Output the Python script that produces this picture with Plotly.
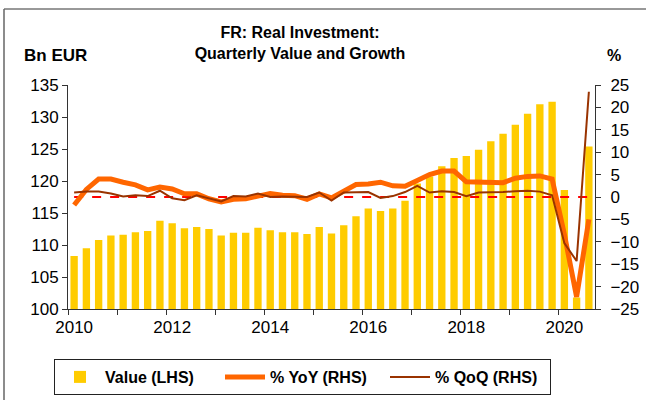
import plotly.graph_objects as go

# ---- data (2010Q1 .. 2020Q3) ----
quarters = [f"{y}Q{q}" for y in range(2010, 2021) for q in range(1, 5)][:43]

value_bn_eur = [108.3, 109.5, 110.8, 111.5, 111.6, 112.0, 112.2, 113.8,
                113.4, 112.6, 112.8, 112.5, 111.5, 111.9, 111.9, 112.7,
                112.3, 112.0, 112.0, 111.7, 112.8, 111.8, 113.1, 114.5,
                115.7, 115.3, 115.7, 116.9, 119.6, 120.7, 122.3, 123.6,
                123.9, 124.9, 126.2, 127.4, 128.8, 130.5, 132.0, 132.4,
                118.6, 101.8, 125.4]

yoy_pct = [-1.8, 1.7, 4.0, 4.0, 3.3, 2.7, 1.6, 2.2,
           1.8, 0.7, 0.7, -0.4, -1.1, -0.5, -0.4, 0.2,
           0.8, 0.4, 0.3, -0.5, 0.7, -0.2, 1.4, 2.8,
           2.9, 3.3, 2.5, 2.4, 3.7, 5.0, 5.8, 5.8,
           3.4, 3.3, 3.2, 3.2, 4.2, 4.6, 4.7, 4.0,
           -8.3, -22.3, -5.0]

qoq_pct = [1.0, 1.2, 1.2, 0.8, 0.1, 0.4, 0.2, 1.4,
           -0.3, -0.7, 0.4, -0.3, -1.0, 0.2, 0.1, 0.8,
           0.0, 0.1, 0.1, 0.0, 1.0, -0.8, 1.0, 1.1,
           1.1, -0.2, 0.2, 1.1, 2.5, 1.0, 1.3, 1.1,
           0.2, 1.0, 1.0, 1.1, 1.3, 1.4, 1.2, 0.4,
           -10.3, -14.3, 23.5]

year_labels = ["2010", "2012", "2014", "2016", "2018", "2020"]

x = list(range(len(quarters)))
label_pos = [quarters.index(f"{y}Q1") for y in year_labels]
year_bounds = [quarters.index(q) - 0.5 for q in quarters if q.endswith("Q1")]

FONT = "Liberation Sans, Arial, sans-serif"
W, H = 646, 400
L, R, T, B = 68, 51, 85, 91
PW, PH = W - L - R, H - T - B


def px_x(p):
    return (p - L) / PW


def px_y(p):
    return (H - B - p) / PH


fig = go.Figure()
fig.add_trace(go.Bar(x=x, y=value_bn_eur, name="<b>Value (LHS)</b>",
                     marker=dict(color="#FFCC00", line=dict(width=0)),
                     width=0.6, yaxis="y"))
fig.add_trace(go.Scatter(x=[x[0], x[-1]], y=[0, 0], mode="lines",
                         line=dict(color="#FF0000", width=2, dash="dash"),
                         showlegend=False, hoverinfo="skip", yaxis="y2"))
fig.add_trace(go.Scatter(x=x, y=yoy_pct, name="<b>% YoY (RHS)</b>", mode="lines",
                         line=dict(color="#FF6600", width=5), yaxis="y2"))
fig.add_trace(go.Scatter(x=x, y=qoq_pct, name="<b>% QoQ (RHS)</b>", mode="lines",
                         line=dict(color="#993300", width=2), yaxis="y2"))

axis_font = dict(family=FONT, size=17, color="black")

fig.update_layout(
    width=W, height=H,
    margin=dict(l=L, r=R, t=T, b=B, autoexpand=False),
    paper_bgcolor="white", plot_bgcolor="white",
    font=dict(family=FONT, color="black"),
    title=dict(text="<b>FR: Real Investment:<br>Quarterly Value and Growth</b>",
               x=300 / W, xanchor="center", xref="container",
               y=1 - 38 / H, yanchor="top", yref="container",
               font=dict(family=FONT, size=16, color="black")),
    xaxis=dict(range=[-0.5, len(x) - 0.5], tickmode="array",
               tickvals=label_pos, ticktext=year_labels, ticks="",
               showline=True, linecolor="#333333", linewidth=1,
               showgrid=False, zeroline=False, tickfont=axis_font,
               automargin=False, ticklabelstandoff=3,
               minor=dict(tickmode="array", tickvals=year_bounds,
                          ticks="outside", ticklen=5, tickcolor="#333333",
                          showgrid=False)),
    yaxis=dict(range=[100, 135], dtick=5, ticks="outside", ticklen=5,
               tickcolor="#333333", showline=True, linecolor="#333333",
               linewidth=1, showgrid=False, zeroline=False, tickfont=axis_font,
               automargin=False),
    yaxis2=dict(range=[-25, 25], dtick=5, overlaying="y", side="right",
                ticks="outside", ticklen=5, tickcolor="#333333",
                showline=True, linecolor="#333333", linewidth=1,
                showgrid=False, zeroline=False, tickfont=axis_font,
                automargin=False, ticklabelstandoff=6),
    legend=dict(orientation="h", xref="container", yref="container",
                x=54 / W, xanchor="left", y=1 - 359 / H, yanchor="top",
                bordercolor="#222222", borderwidth=1,
                font=dict(family=FONT, size=16, color="black"),
                itemwidth=40, entrywidth=110, entrywidthmode="pixels",
                traceorder="normal"),
    annotations=[
        dict(text="<b>Bn EUR</b>", xref="paper", yref="paper",
             x=px_x(22), y=px_y(55), xanchor="left",
             yanchor="middle", showarrow=False,
             font=dict(family=FONT, size=17, color="black")),
        dict(text="<b>%</b>", xref="paper", yref="paper",
             x=px_x(614), y=px_y(55), xanchor="center",
             yanchor="middle", showarrow=False,
             font=dict(family=FONT, size=16, color="black")),
    ],
    shapes=[
        dict(type="line", xref="paper", yref="paper",
             x0=px_x(4), x1=px_x(W), y0=px_y(9), y1=px_y(9),
             line=dict(color="#333333", width=1)),
        dict(type="line", xref="paper", yref="paper",
             x0=px_x(4), x1=px_x(4), y0=px_y(9), y1=px_y(H),
             line=dict(color="#666666", width=1.5)),
    ],
)

fig.write_html("out.html",
               config={"displayModeBar": False},
               post_script="document.body.style.margin='0';"
                           "document.body.style.overflow='hidden';")
